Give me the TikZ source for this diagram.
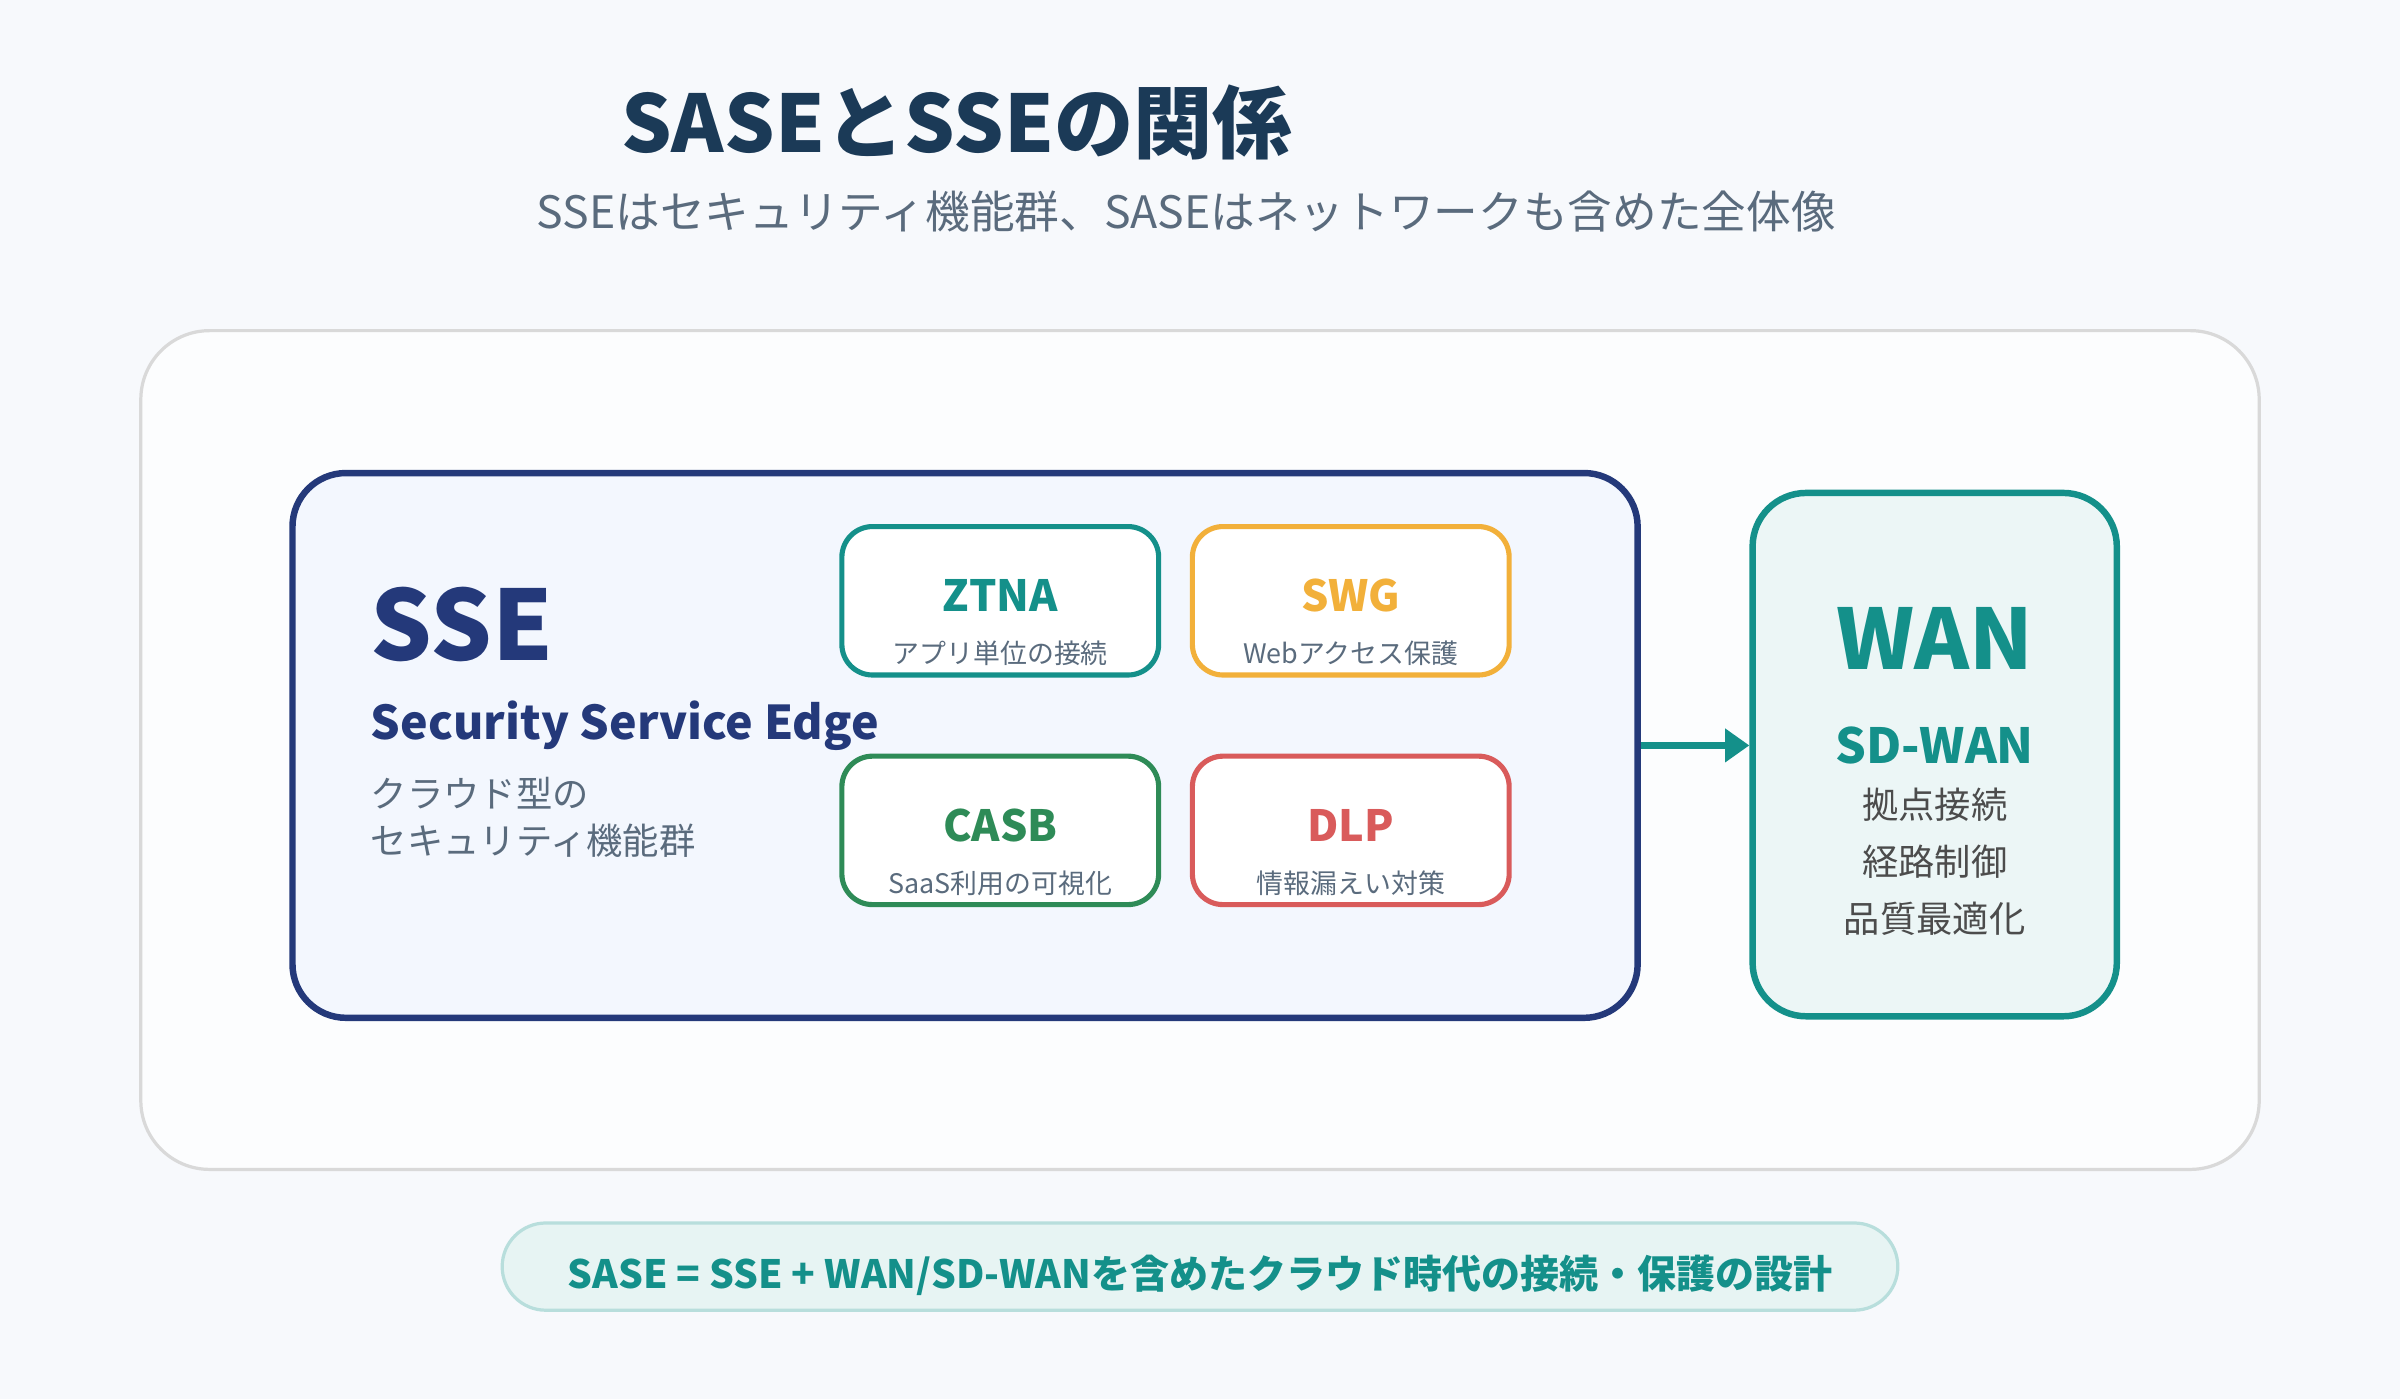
\documentclass[tikz,border=0pt]{standalone}
\usepackage{fontspec}
\setmainfont{Noto Sans CJK JP}
\usetikzlibrary{arrows.meta}
\definecolor{bg}{HTML}{F7F9FC}
\definecolor{navy}{HTML}{1B3A57}
\definecolor{sse}{HTML}{24397A}
\definecolor{ssefill}{HTML}{F3F7FE}
\definecolor{gr}{HTML}{5A6B7D}
\definecolor{teal}{HTML}{14908A}
\definecolor{org}{HTML}{F2B03A}
\definecolor{grn}{HTML}{2E8B57}
\definecolor{red}{HTML}{D95B5B}
\tikzset{
 px/.style={x=0.02cm,y=-0.02cm},
 card/.style={draw=#1,line width=1.9pt,rounded corners=0.4cm,fill=white,minimum width=4.14cm,minimum height=1.94cm},
 ct/.style={font=\fontsize{16}{18}\selectfont\bfseries,text=#1},
 cs/.style={font=\fontsize{10}{12}\selectfont,text=gr},
 gtxt/.style={font=\fontsize{13.5}{16}\selectfont,text=gr},
}
\begin{document}
\begin{tikzpicture}[px]
\fill[bg] (0,0) rectangle (1568,914);
\useasboundingbox (0,0) rectangle (1568,914);
\node[font=\fontsize{29.5}{34}\selectfont\bfseries,text=navy] (title) at (625,80) {SASEとSSEの関係};
\node[font=\fontsize{16.6}{19}\selectfont,text=gr] (sub) at (775,138) {SSEはセキュリティ機能群、SASEはネットワークも含めた全体像};
\draw[draw=black!15,line width=1.2pt,fill=white!60!bg,rounded corners=0.9cm] (92,216) rectangle (1476,764);
\node[draw=sse,line width=2.4pt,fill=ssefill,rounded corners=0.7cm,minimum width=17.58cm,minimum height=7.12cm] (sse) at (630.5,487) {};
\node[anchor=west,font=\fontsize{36}{42}\selectfont\bfseries,text=sse,inner sep=0] (ssel) at (242,408) {SSE};
\node[anchor=west,font=\fontsize{17.3}{20}\selectfont\bfseries,text=sse,inner sep=0] (ssef) at (242,474) {Security Service Edge};
\node[anchor=west,gtxt,inner sep=0] (d1) at (242,518) {クラウド型の};
\node[anchor=west,gtxt,inner sep=0] (d2) at (242,549) {セキュリティ機能群};
\node[card=teal] (ztna) at (653.5,392.5) {};
\node[card=org] (swg) at (882.5,392.5) {};
\node[card=grn] (casb) at (653.5,542.5) {};
\node[card=red] (dlp) at (882.5,542.5) {};
\node[ct=teal] at (653.5,389) {ZTNA};
\node[cs] at (653.5,427) {アプリ単位の接続};
\node[ct=org] at (882.5,389) {SWG};
\node[cs] at (882.5,427) {Webアクセス保護};
\node[ct=grn] at (653.5,539) {CASB};
\node[cs] at (653.5,577) {SaaS利用の可視化};
\node[ct=red] at (882.5,539) {DLP};
\node[cs] at (882.5,577) {情報漏えい対策};
\node[draw=teal,line width=2.4pt,fill=teal!8,rounded corners=0.7cm,minimum width=4.76cm,minimum height=6.84cm] (wan) at (1264,493) {};
\node[font=\fontsize{31}{36}\selectfont\bfseries,text=teal] at (1264,417) {WAN};
\node[font=\fontsize{18}{21}\selectfont\bfseries,text=teal] at (1264,487) {SD-WAN};
\node[gtxt,text=black!70] at (1264,526) {拠点接続};
\node[gtxt,text=black!70] at (1264,563) {経路制御};
\node[gtxt,text=black!70] at (1264,600) {品質最適化};
\draw[teal,line width=2.6pt,-{Triangle[length=9pt,width=12pt]}] (sse.east|-0,487) -- (wan.west|-0,487);
\node[draw=teal!30,fill=teal!10,line width=1.2pt,rounded corners=0.57cm,minimum width=18.24cm,minimum height=1.14cm] (pill) at (784,827.5) {};
\node[font=\fontsize{14.5}{17}\selectfont\bfseries,text=teal] (pillt) at (784,833) {SASE = SSE + WAN/SD-WANを含めたクラウド時代の接続・保護の設計};
\end{tikzpicture}
\end{document}
